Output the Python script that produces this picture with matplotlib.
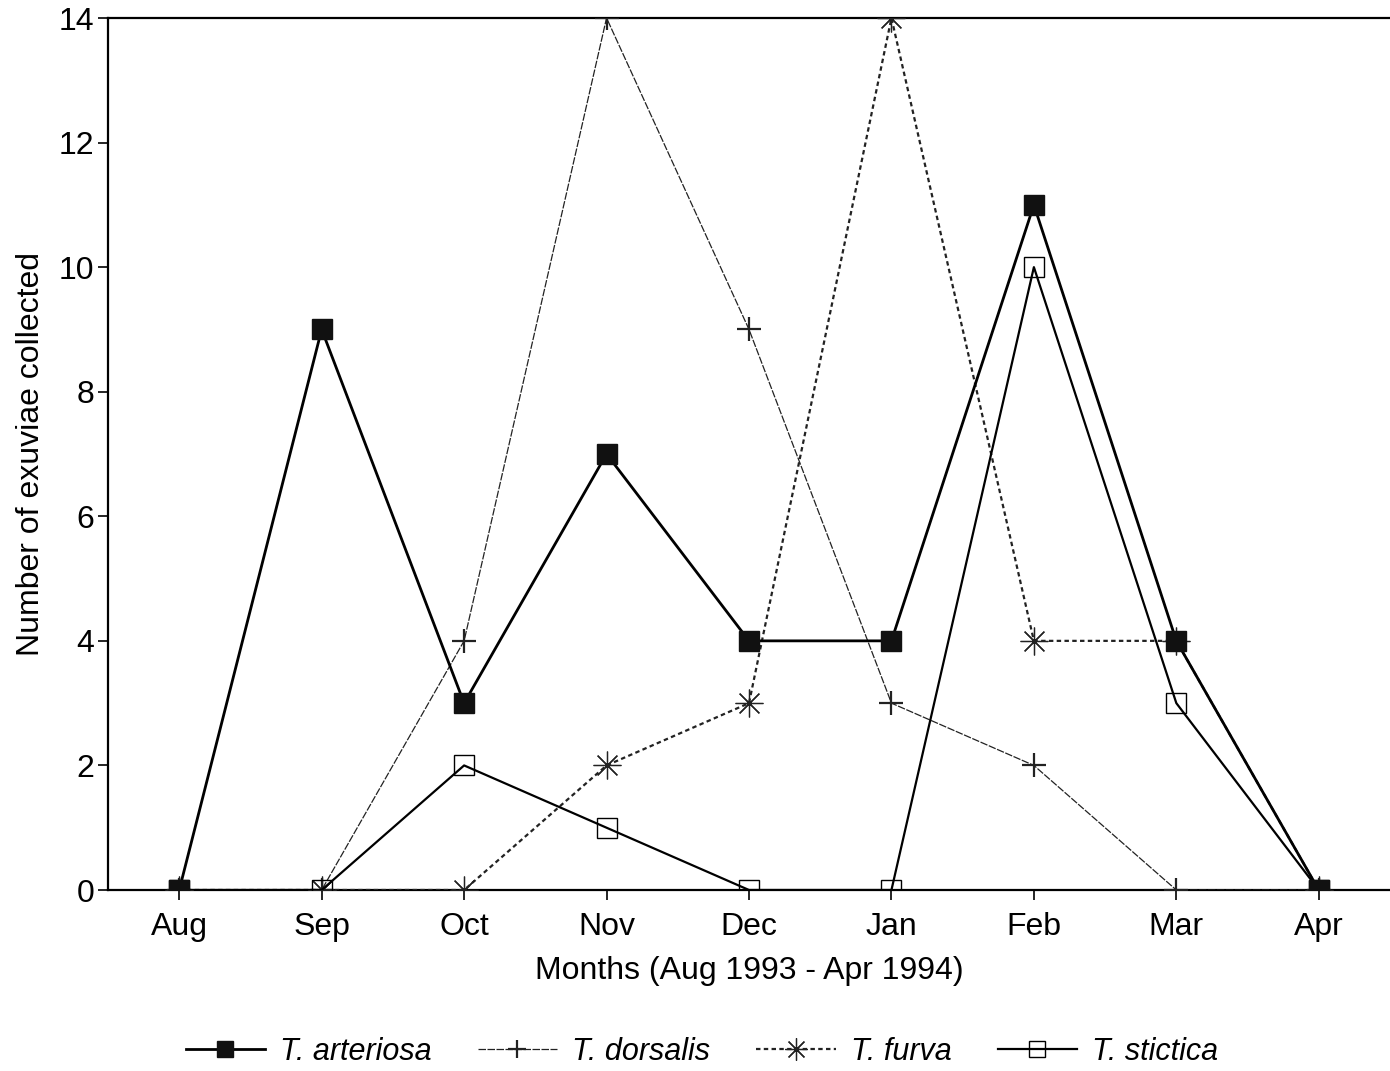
import matplotlib
matplotlib.use("Agg")
import matplotlib.pyplot as plt

plt.rcParams['font.family'] = ['Liberation Sans', 'DejaVu Sans']

months = ["Aug", "Sep", "Oct", "Nov", "Dec", "Jan", "Feb", "Mar", "Apr"]
arteriosa = [0, 9, 3, 7, 4, 4, 11, 4, 0]
dorsalis = [0, 0, 4, 14, 9, 3, 2, 0, 0]
furva = [0, 0, 0, 2, 3, 14, 4, 4, 0]
stictica = [0, 0, 2, 1, 0, 0, 10, 3, 0]
y_ticks = [0, 2, 4, 6, 8, 10, 12, 14]

fig = plt.figure(figsize=(13.9, 10.71), dpi=100)
ax = fig.add_axes([108 / 1390, 181 / 1071, 1 - 108 / 1390, (890 - 18) / 1071])

x = list(range(len(months)))
h1, = ax.plot(x, arteriosa, color='black', lw=2.0, marker='s', ms=15,
              mfc='#111111', mec='#111111', label='T. arteriosa', zorder=4)
h2, = ax.plot(x, dorsalis, color='#222222', lw=0.9, ls=(0, (6, 1.2)), marker='+',
              ms=17, mew=1.6, label='T. dorsalis', zorder=3)
h3, = ax.plot(x, furva, color='#222222', lw=1.6, ls=(0, (2, 1.5)), marker=(8, 2, 0),
              ms=20, mew=0.9, label='T. furva', zorder=3)
h4, = ax.plot(x, stictica, color='black', lw=1.6, marker='s', ms=14,
              fillstyle='none', mew=1.0, label='T. stictica', zorder=3)

ax.set_xlim(-0.5, 8.5)
ax.set_ylim(0, 14)
ax.set_xticks(x)
ax.set_xticklabels(months)
ax.set_yticks(y_ticks)
ax.tick_params(axis='both', labelsize=23, length=7, width=1.2, direction='out')
ax.tick_params(axis='x', pad=9)
ax.tick_params(axis='y', pad=3)
for side in ('left', 'bottom', 'top'):
    ax.spines[side].set_linewidth(1.6)
ax.spines['right'].set_visible(False)

ax.set_xlabel("Months (Aug 1993 - Apr 1994)", fontsize=23, labelpad=10)
ax.set_ylabel("Number of exuviae collected", fontsize=23, labelpad=9)

leg = fig.legend(handles=[h1, h2, h3, h4], loc='lower center', ncol=4,
                 bbox_to_anchor=(0.505, -0.022), frameon=False,
                 prop={'style': 'italic', 'size': 22}, handlelength=2.6,
                 columnspacing=1.5, handletextpad=0.5, markerscale=0.8)

fig.savefig("out.png", dpi=100)
